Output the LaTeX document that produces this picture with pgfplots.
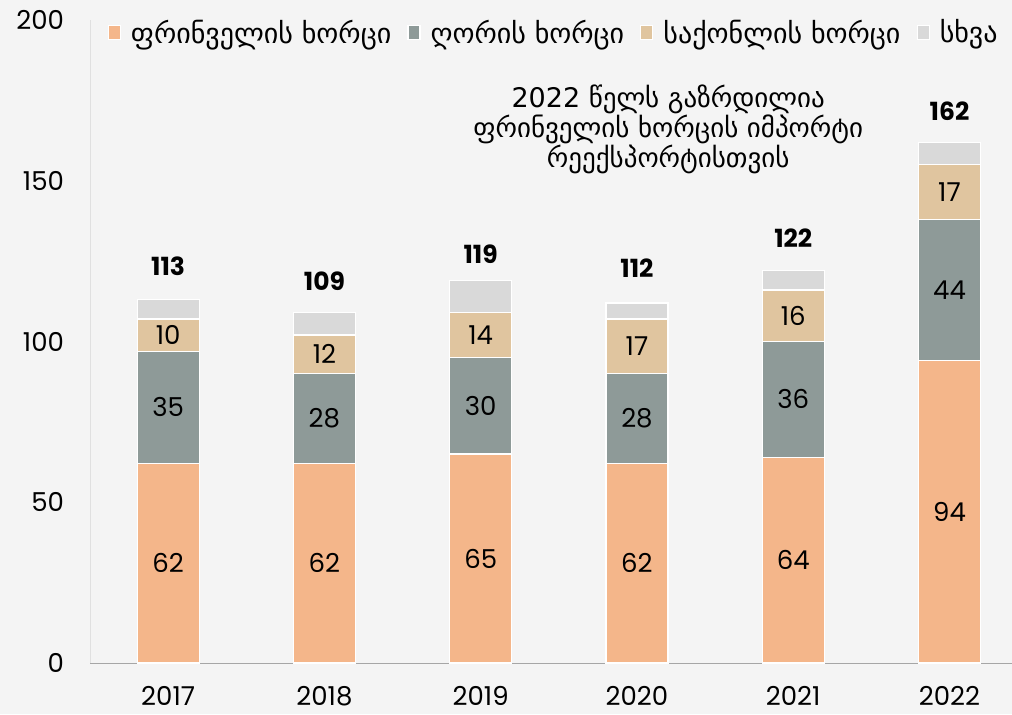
\documentclass[border=0pt]{standalone}
\usepackage{pgfplots}
\pgfplotsset{compat=1.18}
\usepackage{fontspec}
\setmainfont{Poppins}
\newfontfamily\geo{DejaVu Sans}
\usetikzlibrary{backgrounds}
\definecolor{cA}{HTML}{F4B68A}
\definecolor{cB}{HTML}{8E9A98}
\definecolor{cC}{HTML}{E0C59F}
\definecolor{cD}{HTML}{D9D9D9}
\definecolor{bgc}{HTML}{F4F4F4}
\pgfplotsset{
  common/.style={scale only axis, width=461pt, height=321.5pt,
    xmin=-0.5, xmax=5.4, ymin=0, ymax=200},
}
\begin{document}
\begin{tikzpicture}
\begin{axis}[name=ax, common,
  ybar stacked, bar width=31pt,
  xtick={0,1,2,3,4,5}, xticklabels={2017,2018,2019,2020,2021,2022},
  ytick={0,50,100,150,200},
  axis x line*=bottom, axis y line*=left,
  x axis line style={draw=black!35, -},
  y axis line style={draw=black!12, -},
  major tick length=0pt,
  tick label style={font=\fontsize{13}{15}\selectfont, text=black},
  /pgf/number format/assume math mode=true,
  yticklabel style={xshift=-9.5pt},
  xticklabel style={yshift=-8pt},
  legend columns=4,
  legend style={draw=none, fill=none, at={(0.504,0.98)}, anchor=center,
    font=\geo\fontsize{14}{16}\selectfont, column sep=3pt,
    /tikz/every even column/.append style={column sep=6pt}},
  legend image code/.code={\fill[#1] (0pt,-3.5pt) rectangle (6pt,3.5pt);},
  every axis plot/.append style={draw=white, line width=0.6pt},
]
\addplot[fill=cA] coordinates {(0,62) (1,62) (2,65) (3,62) (4,64) (5,94)};
\addlegendentry{ფრინველის ხორცი}
\addplot[fill=cB] coordinates {(0,35) (1,28) (2,30) (3,28) (4,36) (5,44)};
\addlegendentry{ღორის ხორცი}
\addplot[fill=cC] coordinates {(0,10) (1,12) (2,14) (3,17) (4,16) (5,17)};
\addlegendentry{საქონლის ხორცი}
\addplot[fill=cD, nodes near coords, point meta=explicit symbolic,
  every node near coord/.append style={anchor=south, yshift=13pt,
    font=\bfseries\fontsize{12.5}{15}\selectfont, text=black}]
  coordinates {(0,6) [113] (1,7) [109] (2,10) [119] (3,5) [112] (4,6) [122] (5,7) [162]};
\addlegendentry{სხვა}
\node[align=center, font=\geo\fontsize{13.5}{15}\selectfont, text=black]
  at (axis cs:3.2,166) {2022 წელს გაზრდილია\\ფრინველის ხორცის იმპორტი\\რეექსპორტისთვის};
\end{axis}
% segment value labels, placed at the middle of each segment
\begin{axis}[common, hide axis]
\addplot[draw=none, mark=none, nodes near coords, point meta=explicit symbolic,
  every node near coord/.append style={anchor=center, yshift=0pt,
    font=\fontsize{13}{15}\selectfont, text=black}]
  coordinates {
   (0,31) [62] (1,31) [62] (2,32.5) [65] (3,31) [62] (4,32) [64] (5,47) [94]
   (0,79.5) [35] (1,76) [28] (2,80) [30] (3,76) [28] (4,82) [36] (5,116) [44]
   (0,102) [10] (1,96) [12] (2,102) [14] (3,98.5) [17] (4,108) [16] (5,146.5) [17]
  };
\end{axis}
\pgfresetboundingbox
\begin{pgfonlayer}{background}
\fill[bgc] ([shift={(-45pt,-25.5pt)}]ax.south west) rectangle ([shift={(0pt,10pt)}]ax.north east);
\end{pgfonlayer}
\path ([shift={(-45pt,-25.5pt)}]ax.south west) rectangle ([shift={(0pt,10pt)}]ax.north east);
\end{tikzpicture}
\end{document}
